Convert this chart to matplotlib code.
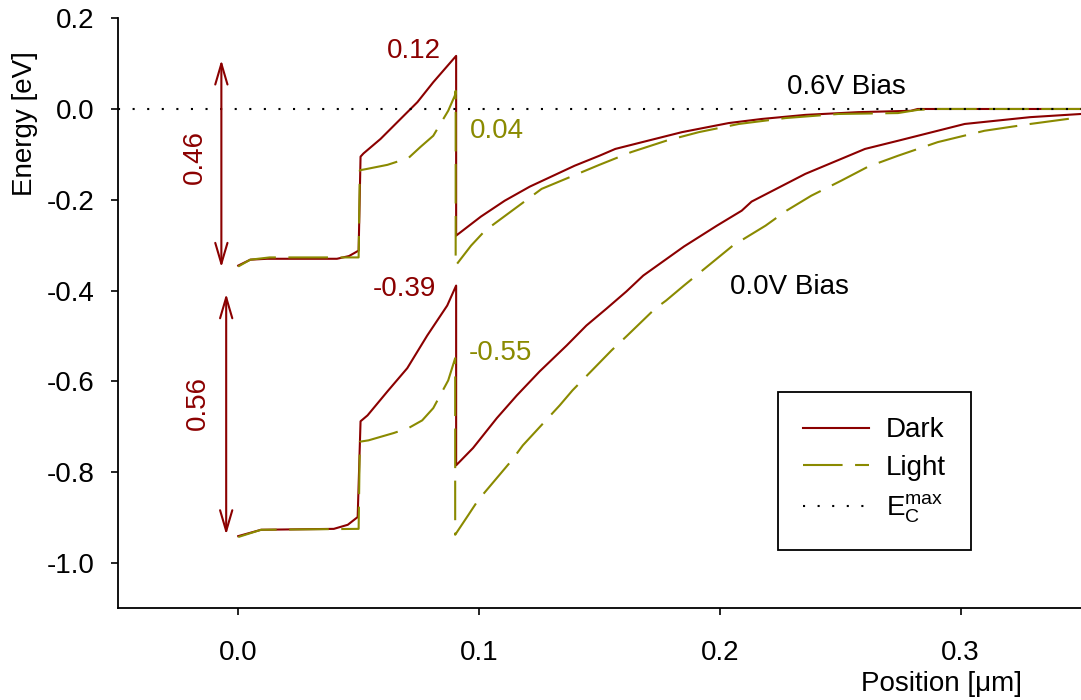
import matplotlib
matplotlib.use("Agg")
import matplotlib.pyplot as plt

plt.rcParams['font.family'] = ['Liberation Sans', 'DejaVu Sans']
plt.rcParams['mathtext.fontset'] = 'custom'
plt.rcParams['mathtext.rm'] = 'Liberation Sans'
plt.rcParams['mathtext.it'] = 'Liberation Sans'

DARK = '#8b0000'
LIGHT = '#8a8a00'
FS = 20

# conduction band edge, 0.6 V bias (upper pair)
dark06_x = [0.0, 0.005, 0.012, 0.041, 0.046, 0.0500, 0.0508, 0.052, 0.0591, 0.0674, 0.0744,
            0.0810, 0.0905, 0.0905, 0.1008, 0.1107, 0.1211, 0.1397, 0.1500, 0.1566, 0.1678,
            0.1843, 0.2037, 0.2174, 0.2355, 0.2574, 0.2793, 0.2822, 0.35]
dark06_y = [-0.345, -0.332, -0.330, -0.330, -0.324, -0.312, -0.105, -0.098, -0.066, -0.022, 0.015,
            0.059, 0.117, -0.279, -0.237, -0.202, -0.171, -0.125, -0.103, -0.088, -0.073,
            -0.051, -0.031, -0.022, -0.013, -0.007, -0.004, 0.0, 0.0]

light06_x = [0.0, 0.005, 0.013, 0.0500, 0.0505, 0.0535, 0.0620, 0.0707, 0.0756, 0.0810, 0.0872,
             0.0900, 0.0903, 0.0903, 0.0967, 0.1025, 0.1260, 0.1500, 0.1632, 0.1777, 0.1913,
             0.2079, 0.2273, 0.2492, 0.2740, 0.2822, 0.29, 0.35]
light06_y = [-0.347, -0.332, -0.327, -0.327, -0.135, -0.132, -0.123, -0.108, -0.084, -0.059, -0.004,
             0.030, 0.040, -0.345, -0.301, -0.268, -0.176, -0.123, -0.095, -0.070, -0.051,
             -0.033, -0.020, -0.011, -0.009, -0.002, 0.0, 0.0]

# conduction band edge, 0.0 V bias (lower pair)
dark00_x = [0.0, 0.0095, 0.0397, 0.0455, 0.0496, 0.0508, 0.0537, 0.0620, 0.0702, 0.0785, 0.0868,
            0.0905, 0.0905, 0.0975, 0.1074, 0.1157, 0.1252, 0.1364, 0.1446, 0.1529, 0.1612,
            0.1682, 0.1851, 0.1988, 0.2091, 0.2132, 0.2355, 0.2603, 0.2740, 0.3017, 0.3289, 0.35]
dark00_y = [-0.941, -0.927, -0.925, -0.916, -0.899, -0.688, -0.675, -0.622, -0.571, -0.499, -0.433,
            -0.389, -0.785, -0.747, -0.681, -0.631, -0.578, -0.521, -0.477, -0.440, -0.402,
            -0.367, -0.303, -0.257, -0.224, -0.204, -0.143, -0.088, -0.070, -0.033, -0.018, -0.011]

light00_x = [0.0, 0.0095, 0.0500, 0.0505, 0.0541, 0.0645, 0.0707, 0.0764, 0.0810, 0.0872, 0.0901,
             0.0901, 0.0955, 0.0996, 0.1136, 0.1182, 0.1335, 0.1388, 0.1550, 0.1612, 0.1731,
             0.1777, 0.1851, 0.2054, 0.2190, 0.2277, 0.2380, 0.2504, 0.2616, 0.2740, 0.2905,
             0.3099, 0.3289, 0.35]
light00_y = [-0.943, -0.927, -0.925, -0.733, -0.730, -0.714, -0.703, -0.686, -0.659, -0.598, -0.549,
             -0.938, -0.895, -0.862, -0.774, -0.741, -0.653, -0.620, -0.532, -0.501, -0.440,
             -0.422, -0.389, -0.301, -0.257, -0.224, -0.191, -0.158, -0.127, -0.103, -0.073,
             -0.048, -0.033, -0.018]

ec_max = 0.0

# barrier heights (arrow ends)
barrier_06 = (0.108, -0.349)
barrier_00 = (-0.407, -0.938)


fig = plt.figure(figsize=(10.81, 7.0), dpi=100)
ax = fig.add_axes([0.109, 0.131, 0.891, 0.843])

ax.plot(dark00_x, dark00_y, color=DARK, lw=1.5, label='Dark')
ax.plot(dark06_x, dark06_y, color=DARK, lw=1.5)
ax.plot(light00_x, light00_y, color=LIGHT, lw=1.5, ls=(0, (19, 6)), label='Light')
ax.plot(light06_x, light06_y, color=LIGHT, lw=1.5, ls=(0, (19, 6)))
ax.axhline(ec_max, color='black', lw=1.5, ls=(0, (1, 6)), label=r'$\mathregular{E_C^{max}}$')

ax.set_xlim(-0.05, 0.35)
ax.set_ylim(-1.1, 0.2)
ax.set_xticks([0.0, 0.1, 0.2, 0.3])
ax.set_xticklabels(['0.0', '0.1', '0.2', '0.3'])
ax.set_yticks([0.2, 0.0, -0.2, -0.4, -0.6, -0.8, -1.0])
ax.set_yticklabels(['0.2', '0.0', '-0.2', '-0.4', '-0.6', '-0.8', '-1.0'])
ax.tick_params(axis='both', direction='out', length=5, width=1.2, labelsize=FS)
ax.tick_params(axis='x', pad=18)
ax.tick_params(axis='y', pad=12)
for side in ['top', 'right']:
    ax.spines[side].set_visible(False)
for side in ['left', 'bottom']:
    ax.spines[side].set_linewidth(1.3)

fig.text(25 / 1081, 1 - 124 / 700, 'Energy [eV]', rotation=90, ha='center', va='center', fontsize=FS)
fig.text(1022 / 1081, 1 - 684 / 700, 'Position [μm]', ha='right', va='center', fontsize=FS)

# barrier arrows
arrow = dict(arrowstyle='<->,head_length=0.75,head_width=0.22', color=DARK, lw=1.5,
             mutation_scale=20, shrinkA=0, shrinkB=0)
ax.annotate('', xy=(-0.0070, barrier_06[0]), xytext=(-0.0070, barrier_06[1]), arrowprops=arrow)
ax.annotate('', xy=(-0.0050, barrier_00[0]), xytext=(-0.0050, barrier_00[1]), arrowprops=arrow)
ax.text(-0.0182, -0.105, '0.46', rotation=90, color=DARK, fontsize=FS, ha='center', va='center')
ax.text(-0.0169, -0.648, '0.56', rotation=90, color=DARK, fontsize=FS, ha='center', va='center')

ax.text(0.0731, 0.127, '0.12', color=DARK, fontsize=FS, ha='center', va='center')
ax.text(0.1074, -0.048, '0.04', color=LIGHT, fontsize=FS, ha='center', va='center')
ax.text(0.0690, -0.396, '-0.39', color=DARK, fontsize=FS, ha='center', va='center')
ax.text(0.1090, -0.538, '-0.55', color=LIGHT, fontsize=FS, ha='center', va='center')
ax.text(0.2525, 0.048, '0.6V Bias', color='black', fontsize=FS, ha='center', va='center')
ax.text(0.2290, -0.393, '0.0V Bias', color='black', fontsize=FS, ha='center', va='center')

leg = ax.legend(loc='upper left', bbox_to_anchor=(0.685, 0.366), borderaxespad=0,
                fontsize=FS, handlelength=2.4, handletextpad=0.6, borderpad=0.9,
                labelspacing=0.42, fancybox=False, framealpha=1, edgecolor='black')
leg.get_frame().set_linewidth(1.3)

fig.savefig('out.png', dpi=100)
